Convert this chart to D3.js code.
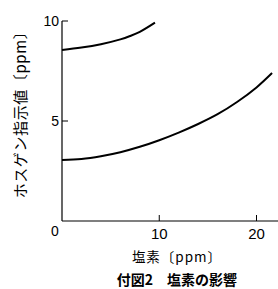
<!DOCTYPE html>
<html><head><meta charset="utf-8">
<script src="https://cdn.jsdelivr.net/npm/d3@7"></script>
<style>body{margin:0;background:#fff}svg{display:block}</style>
</head><body>
<script>
const upperX = [0, 2, 4, 6, 7, 8, 9.56];
const upperY = [8.55, 8.67, 8.84, 9.08, 9.25, 9.46, 9.92];
const lowerX = [0, 2, 4, 6, 8, 10, 12, 14, 16, 18, 20, 21.6];
const lowerY = [3.05, 3.1, 3.24, 3.44, 3.71, 4.04, 4.42, 4.85, 5.34, 5.95, 6.68, 7.4];
const xTicks = [10, 20];
const yTicks = [5, 10];
const xTitle = "塩素〔ppm〕";
const yTitle = "ホスゲン指示値〔ppm〕";
const caption = "付図2　塩素の影響";

const W = 278, H = 289;
const svg = d3.select("body").append("svg").attr("width", W).attr("height", H);
const x = d3.scaleLinear().domain([0, 20]).range([62, 256.5]);
const y = d3.scaleLinear().domain([0, 10]).range([221, 21]);
const font = "'Noto Sans CJK JP', 'Noto Sans', sans-serif";

svg.append("line").attr("x1", x(0)).attr("x2", W).attr("y1", y(0)).attr("y2", y(0)).attr("stroke", "#000").attr("stroke-width", 1.2);
svg.append("line").attr("x1", x(0)).attr("x2", x(0)).attr("y1", y(0)).attr("y2", y(10)).attr("stroke", "#000").attr("stroke-width", 1.2);

xTicks.forEach(t => {
  svg.append("line").attr("x1", x(t)).attr("x2", x(t)).attr("y1", y(0)).attr("y2", y(0) - 6).attr("stroke", "#000");
  svg.append("text").attr("x", x(t)).attr("y", 239).attr("text-anchor", "middle")
    .attr("font-family", "'Liberation Sans Narrow', 'Liberation Sans', sans-serif").attr("font-size", 15).text(t);
});
yTicks.forEach(t => {
  svg.append("line").attr("x1", x(0)).attr("x2", x(0) + 6).attr("y1", y(t)).attr("y2", y(t)).attr("stroke", "#000");
  svg.append("text").attr("x", 59).attr("y", y(t) + 5).attr("text-anchor", "end")
    .attr("font-family", "'Liberation Sans', sans-serif").attr("font-size", 14).text(t);
});
svg.append("text").attr("x", 55).attr("y", 236).attr("text-anchor", "middle")
  .attr("font-family", "'Liberation Sans', sans-serif").attr("font-size", 14).text(0);

const line = d3.line().x(d => x(d[0])).y(d => y(d[1])).curve(d3.curveCatmullRom.alpha(0.5));
svg.append("path").datum(upperX.map((v, i) => [v, upperY[i]])).attr("d", line)
  .attr("fill", "none").attr("stroke", "#000").attr("stroke-width", 2);
svg.append("path").datum(lowerX.map((v, i) => [v, lowerY[i]])).attr("d", line)
  .attr("fill", "none").attr("stroke", "#000").attr("stroke-width", 2);

svg.append("text").attr("x", 177).attr("y", 262).attr("text-anchor", "middle")
  .attr("font-family", font).attr("font-size", 13.5).attr("letter-spacing", 1).text(xTitle);
svg.append("text").attr("x", 177).attr("y", 285).attr("text-anchor", "middle")
  .attr("font-family", font).attr("font-size", 14).attr("font-weight", "bold").text(caption);
svg.append("text").attr("transform", "translate(26,111) rotate(-90)").attr("text-anchor", "middle")
  .attr("font-family", font).attr("font-size", 15).attr("letter-spacing", 0.6).text(yTitle);
</script>
</body></html>
